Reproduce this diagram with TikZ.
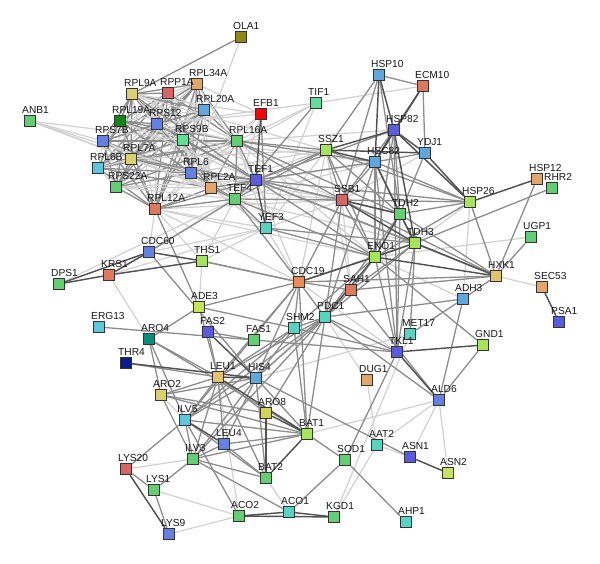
\documentclass[tikz,border=0pt]{standalone}
\usepackage{fontspec}
\setmainfont{Liberation Sans}
\usetikzlibrary{backgrounds}
\definecolor{cOlive}{HTML}{8E8A10}
\definecolor{cSalmon}{HTML}{E0785E}
\definecolor{cTan}{HTML}{E2A56A}
\definecolor{cPink}{HTML}{D86464}
\definecolor{cYel}{HTML}{D9D26A}
\definecolor{cLBlue}{HTML}{5EA8E0}
\definecolor{cRed}{HTML}{FF0000}
\definecolor{cGreen}{HTML}{62D072}
\definecolor{cDGreen}{HTML}{0E8A14}
\definecolor{cBlue}{HTML}{6480E4}
\definecolor{cMint}{HTML}{5EE096}
\definecolor{cCyan}{HTML}{5CC8E0}
\definecolor{cViolet}{HTML}{5A5AE2}
\definecolor{cTurq}{HTML}{52D6C2}
\definecolor{cLime}{HTML}{A4E656}
\definecolor{cOrange}{HTML}{F08A54}
\definecolor{cTeal}{HTML}{0A8C7C}
\definecolor{cNavy}{HTML}{0A1A92}
\definecolor{cGold}{HTML}{E2C46A}
\definecolor{cYOlive}{HTML}{D4D454}
\definecolor{cYGreen}{HTML}{C4E45A}
\tikzset{
  gn/.style={rectangle, draw=black!80, line width=0.9pt, minimum size=11.5pt, inner sep=0pt},
  lbl/.style={inner sep=0pt, font=\fontsize{10.2}{11}\selectfont, text=black!90},
  e1/.style={draw=black!68, line width=1.45pt},
  e2/.style={draw=black!45, line width=1.3pt},
  e3/.style={draw=black!18, line width=1.2pt},
}
\newcommand\gnd[5]{%
  \node[gn, fill=#4] (#1) at (#2,#3) {};
  \node[lbl, anchor=base west] (#1l) at (#2-8,#3-7.5) {#5};
}
\begin{document}
\begin{tikzpicture}[x=1pt,y=-1pt]
\useasboundingbox (0,0) rectangle (600,563);
% nodes
\gnd{OLA1}{241}{37}{cOlive}{OLA1}
\gnd{RPL34A}{197}{84}{cTan}{RPL34A}
\gnd{RPP1A}{168}{93}{cPink}{RPP1A}
\gnd{RPL9A}{132}{94}{cYel}{RPL9A}
\gnd{RPL20A}{204}{110}{cLBlue}{RPL20A}
\gnd{EFB1}{261}{114}{cRed}{EFB1}
\gnd{ANB1}{30}{121}{cGreen}{ANB1}
\gnd{RPL19A}{120}{121}{cDGreen}{RPL19A}
\gnd{RPS12}{157}{124}{cBlue}{RPS12}
\gnd{RPS7B}{103}{141}{cBlue}{RPS7B}
\gnd{RPS9B}{183}{140}{cMint}{RPS9B}
\gnd{RPL16A}{237}{141}{cGreen}{RPL16A}
\gnd{RPL7A}{131}{159}{cYel}{RPL7A}
\gnd{RPL6B}{98}{168}{cCyan}{RPL6B}
\gnd{RPL6}{191}{173}{cBlue}{RPL6}
\gnd{TEF1}{256}{180}{cViolet}{TEF1}
\gnd{RPS22A}{116}{187}{cGreen}{RPS22A}
\gnd{RPL2A}{211}{188}{cTan}{RPL2A}
\gnd{TEF4}{235}{199}{cGreen}{TEF4}
\gnd{RPL12A}{155}{209}{cSalmon}{RPL12A}
\gnd{YEF3}{266}{228}{cTurq}{YEF3}
\gnd{TIF1}{316}{103}{cMint}{TIF1}
\gnd{HSP10}{379}{75}{cLBlue}{HSP10}
\gnd{ECM10}{423}{86}{cSalmon}{ECM10}
\gnd{HSP82}{394}{130}{cViolet}{HSP82}
\gnd{SSZ1}{326}{150}{cLime}{SSZ1}
\gnd{YDJ1}{425}{153}{cLBlue}{YDJ1}
\gnd{HSC82}{375}{162}{cLBlue}{HSC82}
\gnd{HSP12}{537}{179}{cTan}{HSP12}
\gnd{RHR2}{552}{188}{cGreen}{RHR2}
\gnd{SSB1}{342}{200}{cPink}{SSB1}
\gnd{HSP26}{470}{202}{cLime}{HSP26}
\gnd{TDH2}{400}{214}{cGreen}{TDH2}
\gnd{TDH3}{415}{243}{cLime}{TDH3}
\gnd{UGP1}{531}{237}{cGreen}{UGP1}
\gnd{ENO1}{375}{257}{cLime}{ENO1}
\gnd{HXK1}{496}{276}{cGold}{HXK1}
\gnd{CDC19}{299}{282}{cOrange}{CDC19}
\gnd{SAH1}{351}{290}{cSalmon}{SAH1}
\gnd{SEC53}{542}{287}{cTan}{SEC53}
\gnd{ADH3}{463}{299}{cLBlue}{ADH3}
\gnd{PDC1}{325}{317}{cTurq}{PDC1}
\gnd{SHM2}{294}{328}{cTurq}{SHM2}
\gnd{PSA1}{559}{322}{cViolet}{PSA1}
\gnd{MET17}{410}{334}{cTurq}{MET17}
\gnd{GND1}{483}{345}{cLime}{GND1}
\gnd{TKL1}{397}{352}{cViolet}{TKL1}
\gnd{DUG1}{367}{380}{cTan}{DUG1}
\gnd{ALD6}{439}{400}{cBlue}{ALD6}
\gnd{CDC60}{149}{252}{cBlue}{CDC60}
\gnd{THS1}{202}{261}{cLime}{THS1}
\gnd{KRS1}{109}{275}{cSalmon}{KRS1}
\gnd{DPS1}{59}{284}{cGreen}{DPS1}
\gnd{ADE3}{199}{307}{cYGreen}{ADE3}
\gnd{ERG13}{99}{327}{cCyan}{ERG13}
\gnd{FAS2}{208}{332}{cViolet}{FAS2}
\gnd{ARO4}{149}{339}{cTeal}{ARO4}
\gnd{FAS1}{254}{340}{cGreen}{FAS1}
\gnd{THR4}{126}{363}{cNavy}{THR4}
\gnd{LEU1}{218}{377}{cGold}{LEU1}
\gnd{HIS4}{256}{378}{cLBlue}{HIS4}
\gnd{ARO2}{161}{395}{cYel}{ARO2}
\gnd{ARO8}{266}{413}{cYOlive}{ARO8}
\gnd{ILV5}{185}{420}{cCyan}{ILV5}
\gnd{BAT1}{307}{434}{cLime}{BAT1}
\gnd{LEU4}{224}{444}{cBlue}{LEU4}
\gnd{ILV3}{193}{459}{cGreen}{ILV3}
\gnd{AAT2}{377}{445}{cTurq}{AAT2}
\gnd{ASN1}{410}{457}{cViolet}{ASN1}
\gnd{LYS20}{126}{469}{cPink}{LYS20}
\gnd{SOD1}{345}{460}{cGreen}{SOD1}
\gnd{ASN2}{448}{473}{cYGreen}{ASN2}
\gnd{BAT2}{266}{478}{cGreen}{BAT2}
\gnd{LYS1}{154}{490}{cGreen}{LYS1}
\gnd{ACO2}{239}{516}{cGreen}{ACO2}
\gnd{ACO1}{289}{512}{cTurq}{ACO1}
\gnd{KGD1}{334}{517}{cGreen}{KGD1}
\gnd{AHP1}{406}{522}{cTurq}{AHP1}
\gnd{LYS9}{169}{534}{cBlue}{LYS9}
\begin{scope}[on background layer]
\fill[white] (0,0) rectangle (600,563);
\def\riblist{RPL34A,RPP1A,RPL9A,RPL20A,RPL19A,RPS12,RPS7B,RPS9B,RPL16A,RPL7A,RPL6B,RPL6,RPS22A,RPL2A,RPL12A}
\foreach \a [count=\i] in \riblist {
  \foreach \b [count=\j] in \riblist {
    \ifnum\j>\i
      \pgfmathtruncatemacro\k{mod(\i+\j,3)}
      \ifnum\k=0 \draw[e3] (\a) -- (\b); \else \draw[e2] (\a) -- (\b); \fi
    \fi
  }
}
% light edges
\foreach \a/\b in {EFB1/RPL9A,EFB1/RPL34A,EFB1/RPS12,EFB1/RPL16A,EFB1/RPL6,EFB1/TEF4,
  TEF1/RPS22A,TEF1/RPL19A,TEF1/RPL34A,TEF4/RPS22A,TEF4/RPL7A,TEF4/RPS9B,TEF4/RPL9A,
  YEF3/RPL6,YEF3/RPL2A,YEF3/RPL16A,YEF3/RPS12,YEF3/RPL12A,OLA1/RPL6,
  ANB1/RPS7B,ANB1/RPL6,ANB1/RPL2A,ANB1/RPS9B,ANB1/RPL7A,
  TIF1/RPL16A,TIF1/RPL6,TIF1/ECM10,TIF1/YEF3,TIF1/RPS12,
  RPL16A/ENO1,RPL16A/HSP82,RPL6/SSZ1,RPL6/SSB1,RPL2A/SSZ1,RPL2A/HSC82,RPL2A/SSB1,
  TEF1/CDC19,TEF4/HSC82,TEF4/KRS1,TEF4/TDH3,RPL12A/CDC60,RPL12A/CDC19,RPL12A/SSB1,
  RPL12A/ENO1,RPL12A/THS1,YEF3/SSB1,YEF3/SSZ1,YEF3/CDC19,RPL9A/SSZ1,RPS12/SSB1,
  RPL7A/SSZ1,RPS9B/HSC82,SSZ1/CDC19,SSZ1/SAH1,YDJ1/SSB1,SSB1/SAH1,HSP26/TDH3,
  HSP26/ADH3,UGP1/ENO1,ENO1/ADH3,CDC19/TKL1,SAH1/HIS4,PDC1/DUG1,HXK1/SEC53,
  MET17/HIS4,MET17/KGD1,DUG1/AAT2,ALD6/BAT1,ALD6/AAT2,ALD6/ASN1,ALD6/ASN2,ASN1/AAT2,
  AAT2/KGD1,KRS1/ARO4,CDC60/YEF3,KRS1/YEF3,THS1/TEF4,THS1/ADE3,THS1/YEF3,DPS1/TEF4,
  ARO2/ILV5,ILV3/LYS20,LYS1/ACO2,LYS9/ACO2,BAT2/ACO1,LEU1/ACO2}
  \draw[e3] (\a) -- (\b);
% medium edges
\foreach \a/\b in {EFB1/YEF3,TEF1/RPL16A,TEF1/RPL6,TEF1/RPL2A,TEF1/RPL12A,TEF1/RPS9B,
  TEF1/RPL9A,TEF1/RPS12,TEF1/RPL7A,TEF1/TEF4,TEF4/RPL2A,TEF4/RPL6,TEF4/RPL16A,TEF4/RPL12A,
  TEF4/YEF3,OLA1/RPL9A,TIF1/TEF4,
  RPL16A/SSZ1,RPL16A/HSC82,RPL16A/SSB1,RPL16A/TDH2,TEF1/SSZ1,TEF1/SSB1,TEF1/HSP26,
  TEF1/TDH2,TEF1/ENO1,TEF1/TDH3,TEF1/HSC82,TEF1/HXK1,TEF1/HSP82,TEF4/SSB1,TEF4/ENO1,
  TEF4/CDC19,TEF4/SSZ1,TEF4/CDC60,RPL12A/ADE3,YEF3/ENO1,YEF3/TDH3,
  HSP10/ECM10,HSP10/SSB1,HSP10/TDH2,HSP10/SSZ1,ECM10/YDJ1,
  HSP82/TDH2,HSP82/ENO1,HSP82/SSB1,HSP82/TKL1,SSZ1/HSP26,SSZ1/SSB1,SSZ1/ENO1,SSZ1/TDH2,
  HSC82/YDJ1,HSC82/HSP26,HSC82/ENO1,HSC82/SSB1,HSC82/TKL1,HSC82/PDC1,HSC82/TDH3,
  YDJ1/TDH2,SSB1/HSP26,SSB1/ENO1,SSB1/PDC1,SSB1/CDC19,SSB1/HXK1,
  HSP26/HXK1,HSP26/ENO1,HSP26/TDH2,RHR2/TDH3,HSP12/HXK1,UGP1/HXK1,
  TDH2/HXK1,TDH2/PDC1,TDH2/TKL1,ENO1/GND1,TDH3/TKL1,TDH3/MET17,TDH3/CDC19,TDH3/PDC1,
  TDH3/SAH1,ENO1/SAH1,ENO1/TKL1,ENO1/SHM2,
  CDC19/HXK1,CDC19/PDC1,CDC19/SAH1,CDC19/THS1,CDC19/SHM2,CDC19/LEU1,CDC19/HIS4,
  CDC19/ADE3,CDC19/BAT1,CDC19/ILV5,SAH1/ALD6,SAH1/PDC1,SAH1/HXK1,
  PDC1/ADH3,PDC1/TKL1,PDC1/ALD6,PDC1/BAT1,PDC1/LEU1,PDC1/ILV5,PDC1/HIS4,PDC1/ARO8,
  PDC1/ILV3,PDC1/SHM2,HXK1/ADH3,ADH3/MET17,ADH3/ALD6,TKL1/SHM2,TKL1/SOD1,GND1/ALD6,
  HIS4/ASN1,SOD1/BAT1,SOD1/ACO1,SOD1/AHP1,
  CDC60/HIS4,THS1/CDC19,ADE3/SHM2,ADE3/ARO4,ADE3/LEU1,ERG13/FAS1,FAS1/TKL1,
  ARO4/ARO2,ARO4/LEU1,ARO4/BAT1,ARO4/ILV5,THR4/LEU1,FAS2/FAS1,FAS2/LEU1,
  SHM2/BAT1,SHM2/ILV5,SHM2/LEU1,SHM2/HIS4,
  LEU1/ILV5,LEU1/ILV3,LEU1/LEU4,LEU1/BAT2,LEU1/ARO2,LEU1/ARO8,
  HIS4/ILV5,HIS4/ILV3,HIS4/LEU4,HIS4/BAT1,HIS4/ARO2,HIS4/BAT2,
  ARO2/ARO8,ARO2/BAT1,ARO2/ILV3,ILV5/ILV3,ILV5/BAT1,ILV5/LYS20,ILV5/BAT2,ILV5/ACO2,
  LEU4/BAT1,LEU4/BAT2,LEU4/ILV3,ILV3/BAT1,ILV3/BAT2,ILV3/ACO1,ILV3/LYS1,
  LYS20/LYS1,LYS1/LYS9}
  \draw[e2] (\a) -- (\b);
% dark edges
\foreach \a/\b in {EFB1/TEF1,TEF1/YEF3,HSP10/HSP82,HSP10/HSC82,ECM10/HSP82,ECM10/HSC82,
  HSP82/SSZ1,HSP82/HSC82,HSP82/YDJ1,HSP82/HSP26,HSP82/TDH3,SSZ1/HSC82,SSZ1/YDJ1,
  HSC82/TDH2,YDJ1/HSP26,HSP26/HSP12,SSB1/TDH2,SSB1/TDH3,TDH2/ENO1,TDH2/TDH3,
  TDH3/ENO1,TDH3/HXK1,ENO1/HXK1,ENO1/CDC19,ENO1/PDC1,TKL1/GND1,TKL1/ALD6,
  SEC53/PSA1,ASN1/ASN2,CDC60/KRS1,CDC60/DPS1,KRS1/DPS1,CDC60/THS1,KRS1/THS1,
  THR4/HIS4,FAS2/HIS4,LEU1/HIS4,LEU1/BAT1,ARO8/BAT1,ARO8/BAT2,ILV5/LEU4,BAT1/BAT2,
  LYS20/LYS9,ACO2/ACO1,ACO2/KGD1,ACO1/KGD1}
  \draw[e1] (\a) -- (\b);
\end{scope}
\end{tikzpicture}
\end{document}
